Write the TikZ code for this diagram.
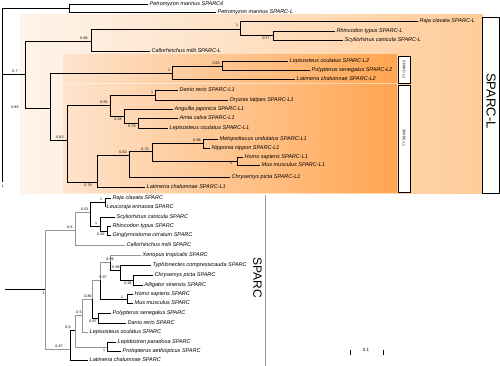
\documentclass[tikz,border=0pt]{standalone}
\usepackage{fontspec}
\setmainfont{Liberation Sans}

\definecolor{pescachiaro}{RGB}{254,244,235}
\definecolor{pesca}{RGB}{255,204,153}
\definecolor{aranciochiaro}{RGB}{254,228,205}
\definecolor{arancio}{RGB}{255,165,80}
\definecolor{grigio}{RGB}{150,150,150}

\tikzset{
  ramo/.style={line width=0.7pt},
  ramog/.style={line width=0.7pt, draw=grigio},
  foglia/.style={anchor=west, inner sep=1.5pt, font=\fontsize{5.5}{6}\selectfont\itshape},
  supporto/.style={inner sep=0pt, font=\fontsize{3.6}{4}\selectfont},
  riquadro/.style={draw=black, fill=white, line width=0.6pt},
}

\begin{document}
\begin{tikzpicture}[x=1pt, y=-1pt]
\useasboundingbox (0,0) rectangle (500,366);

% Riquadri colorati
\fill[left color=pescachiaro, right color=pesca] (20,15) rectangle (483,193);
\fill[left color=aranciochiaro, right color=arancio] (63,55) rectangle (397,83);
\fill[left color=aranciochiaro, right color=arancio] (63,85) rectangle (397,192);

% Etichette dei gruppi
\draw[riquadro] (398,56) rectangle (410,83);
\draw[riquadro] (398,85) rectangle (410,192);
\draw[riquadro] (482,17) rectangle (499.5,193);
\node[rotate=-90, inner sep=0pt, font=\fontsize{3.6}{4}\selectfont] (labL2) at (404,69.5) {SPARC-L2};
\node[rotate=-90, inner sep=0pt, font=\fontsize{3.6}{4}\selectfont] (labL1) at (404,138) {SPARC-L1};
\node[rotate=-90, inner sep=0pt, font=\fontsize{13}{13}\selectfont] (labL) at (491,101) {SPARC-L};
\node[rotate=-90, inner sep=0pt, font=\fontsize{12}{12}\selectfont] (labS) at (257.5,278) {SPARC};
\draw[grigio, line width=0.8pt] (265,195) -- (265,366);

% Scala
\coordinate (sc1) at (350,352);
\coordinate (sc2) at (383,352);
\draw[line width=0.5pt] ([yshift=-2.5pt]sc1) -- ([yshift=2.5pt]sc1);
\draw[line width=0.5pt] ([yshift=-2.5pt]sc2) -- ([yshift=2.5pt]sc2);
\node[supporto, font=\fontsize{4.5}{5}\selectfont] (scala) at (366,349.5) {0.1};

% Nodi interni SPARC-L
\coordinate (radL) at (2,74);
\coordinate (fondoL) at (2,182);
\coordinate (nLamp) at (69,8);
\coordinate (n25) at (25,74);
\coordinate (n91) at (91,41);
\coordinate (n240) at (240,29);
\coordinate (n273) at (273,35);
\coordinate (n50) at (50,108);
\coordinate (n172) at (172,73);
\coordinate (n222) at (222,66);
\coordinate (n67) at (67,140);
\coordinate (n110) at (110,105);
\coordinate (n155) at (155,95);
\coordinate (n124) at (124,116);
\coordinate (n138) at (138,123);
\coordinate (n97) at (97,182);
\coordinate (n129) at (129,155);
\coordinate (n152) at (152,151);
\coordinate (nUcc) at (203,143);
\coordinate (nMam) at (237,161);

% Foglie SPARC-L
\node[foglia] (pmA) at (148,4) {Petromyzon marinus SPARC4};
\node[foglia] (pmL) at (216,12) {Petromyzon marinus SPARC-L};
\node[foglia] (rajaL) at (418,21) {Raja clavata SPARC-L};
\node[foglia] (rhinL) at (335,31) {Rhincodon typus SPARC-L};
\node[foglia] (scylL) at (343,40) {Scyliorhinus canicula SPARC-L};
\node[foglia] (calloL) at (150,51) {Callorhinchus milii SPARC-L};
\node[foglia] (lepL2) at (288,61) {Lepisosteus oculatus SPARC-L2};
\node[foglia] (polyL2) at (310,70) {Polypterus senegalus SPARC-L2};
\node[foglia] (latL2) at (295,79) {Latimeria chalumnae SPARC-L2};
\node[foglia] (danL1) at (178,90) {Danio rerio SPARC-L1};
\node[foglia] (oryL1) at (228,100) {Oryzias latipes SPARC-L1};
\node[foglia] (angL1) at (173,109) {Anguilla japonica SPARC-L1};
\node[foglia] (amiaL1) at (178,118) {Amia calva SPARC-L1};
\node[foglia] (lepL1) at (168,128) {Lepisosteus oculatus SPARC-L1};
\node[foglia] (melL1) at (218,139) {Melopsittacus undulatus SPARC-L1};
\node[foglia] (nipL1) at (210,148) {Nipponia nippon SPARC-L1};
\node[foglia] (homL1) at (243,157) {Homo sapiens SPARC-L1};
\node[foglia] (musL1) at (260,165) {Mus musculus SPARC-L1};
\node[foglia] (chrL1) at (230,177) {Chrysemys picta SPARC-L1};
\node[foglia] (latL1) at (145,187) {Latimeria chalumnae SPARC-L1};

% Rami SPARC-L
\draw[ramo] (radL) |- (nLamp);
\draw[ramo] (radL) -- (fondoL);
\draw[ramo] (radL) -- (n25);
\draw[ramo] (nLamp) |- (pmA.west);
\draw[ramo] (nLamp) |- (pmL.west);
\draw[ramo] (n25) |- (n91);
\draw[ramo] (n25) |- (n50);
\draw[ramo] (n91) |- (n240);
\draw[ramo] (n91) |- (calloL.west);
\draw[ramo] (n240) |- (rajaL.west);
\draw[ramo] (n240) |- (n273);
\draw[ramo] (n273) |- (rhinL.west);
\draw[ramo] (n273) |- (scylL.west);
\draw[ramo] (n50) |- (n172);
\draw[ramo] (n50) |- (n67);
\draw[ramo] (n172) |- (n222);
\draw[ramo] (n172) |- (latL2.west);
\draw[ramo] (n222) |- (lepL2.west);
\draw[ramo] (n222) |- (polyL2.west);
\draw[ramo] (n67) |- (n110);
\draw[ramo] (n67) |- (n97);
\draw[ramo] (n110) |- (n155);
\draw[ramo] (n110) |- (n124);
\draw[ramo] (n155) |- (danL1.west);
\draw[ramo] (n155) |- (oryL1.west);
\draw[ramo] (n124) |- (angL1.west);
\draw[ramo] (n124) |- (n138);
\draw[ramo] (n138) |- (amiaL1.west);
\draw[ramo] (n138) |- (lepL1.west);
\draw[ramo] (n97) |- (n129);
\draw[ramo] (n97) |- (latL1.west);
\draw[ramo] (n129) |- (n152);
\draw[ramo] (n129) |- (chrL1.west);
\draw[ramo] (n152) |- (nUcc);
\draw[ramo] (n152) |- (nMam);
\draw[ramo] (nUcc) |- (melL1.west);
\draw[ramo] (nUcc) |- (nipL1.west);
\draw[ramo] (nMam) |- (homL1.west);
\draw[ramo] (nMam) |- (musL1.west);

% Supporti SPARC-L
\node[supporto] (sL1) at (3,186) {1};
\node[supporto] (sL2) at (15,71) {0.7};
\node[supporto] (sL3) at (84,38) {0.88};
\node[supporto] (sL4) at (237,25) {1};
\node[supporto] (sL5) at (266,38.5) {0.77};
\node[supporto] (sL6) at (15,107) {0.96};
\node[supporto] (sL7) at (169,70) {1};
\node[supporto] (sL8) at (216,63) {0.65};
\node[supporto] (sL9) at (60,137) {0.82};
\node[supporto] (sL10) at (104,102) {0.55};
\node[supporto] (sL11) at (152,92) {1};
\node[supporto] (sL12) at (118,119) {0.58};
\node[supporto] (sL13) at (132,126) {0.78};
\node[supporto] (sL14) at (88,185) {0.79};
\node[supporto] (sL15) at (123,152) {0.62};
\node[supporto] (sL16) at (145,149) {0.72};
\node[supporto] (sL17) at (197,140) {0.98};
\node[supporto] (sL18) at (231,163) {1};

% Nodi interni SPARC
\coordinate (radS) at (5,289);
\coordinate (nS) at (45,289);
\coordinate (nCh) at (75,230);
\coordinate (nEl) at (90,212);
\coordinate (nBat) at (105,202);
\coordinate (nSh) at (100,226);
\coordinate (nRG) at (107,231);
\coordinate (nOst) at (70,349);
\coordinate (n75) at (75,330);
\coordinate (n82) at (82,315);
\coordinate (n92) at (92,299);
\coordinate (nAct) at (98,318);
\coordinate (n100) at (100,280);
\coordinate (nMamS) at (127,299);
\coordinate (nTet) at (110,262);
\coordinate (n120) at (120,270);
\coordinate (nRet) at (133,280);
\coordinate (nLung) at (107,347);

% Foglie SPARC
\node[foglia] (rajaS) at (111,198) {Raja clavata SPARC};
\node[foglia] (leuS) at (105,207) {Leucoraja erinacea SPARC};
\node[foglia] (scylS) at (115,217) {Scyliorhinus canicula SPARC};
\node[foglia] (rhinS) at (111,226) {Rhincodon typus SPARC};
\node[foglia] (gingS) at (111,235) {Ginglymostoma cirratum SPARC};
\node[foglia] (calloS) at (125,245) {Callorhinchus milii SPARC};
\node[foglia] (xenS) at (141,255) {Xenopus tropicalis SPARC};
\node[foglia] (typS) at (151,265) {Typhlonectes compressicauda SPARC};
\node[foglia] (chrS) at (153,275) {Chrysemys picta SPARC};
\node[foglia] (allS) at (143,285) {Alligator sinensis SPARC};
\node[foglia] (homS) at (133,294) {Homo sapiens SPARC};
\node[foglia] (musS) at (133,303) {Mus musculus SPARC};
\node[foglia] (polyS) at (111,313) {Polypterus senegalus SPARC};
\node[foglia] (danS) at (126,323) {Danio rerio SPARC};
\node[foglia] (lepS) at (88,332) {Lepisosteus oculatus SPARC};
\node[foglia] (lepdS) at (116,342) {Lepidosiren paradoxa SPARC};
\node[foglia] (proS) at (121,351) {Protopterus aethiopicus SPARC};
\node[foglia] (latS) at (88,360) {Latimeria chalumnae SPARC};

% Rami SPARC
\draw[ramo] (radS) -- (nS);
\draw[ramog] (nS) |- (nCh);
\draw[ramog] (nS) |- (nOst);
\draw[ramog] (nCh) |- (nEl);
\draw[ramog] (nCh) |- (calloS.west);
\draw[ramo] (nEl) |- (nBat);
\draw[ramo] (nEl) |- (nSh);
\draw[ramo] (nBat) |- (rajaS.west);
\draw[ramo] (nBat) |- (leuS.west);
\draw[ramo] (nSh) |- (scylS.west);
\draw[ramo] (nSh) |- (nRG);
\draw[ramo] (nRG) |- (rhinS.west);
\draw[ramo] (nRG) |- (gingS.west);
\draw[ramo] (nOst) |- (n75);
\draw[ramo] (nOst) |- (latS.west);
\draw[ramog] (n75) |- (n82);
\draw[ramog] (n75) |- (nLung);
\draw[ramo] (nLung) |- (lepdS.west);
\draw[ramo] (nLung) |- (proS.west);
\draw[ramog] (n82) |- (n92);
\draw[ramog] (n82) |- (lepS.west);
\draw[ramog] (n92) |- (n100);
\draw[ramo] (n92) |- (nAct);
\draw[ramo] (nAct) |- (polyS.west);
\draw[ramo] (nAct) |- (danS.west);
\draw[ramog] (n100) |- (nTet);
\draw[ramo] (n100) |- (nMamS);
\draw[ramo] (nMamS) |- (homS.west);
\draw[ramo] (nMamS) |- (musS.west);
\draw[ramog] (nTet) |- (xenS.west);
\draw[ramo] (nTet) |- (n120);
\draw[ramo] (n120) |- (typS.west);
\draw[ramo] (n120) |- (nRet);
\draw[ramo] (nRet) |- (chrS.west);
\draw[ramo] (nRet) |- (allS.west);

% Supporti SPARC
\node[supporto] (sS1) at (44,293) {1};
\node[supporto] (sS2) at (70,227) {0.6};
\node[supporto] (sS3) at (85,209) {0.61};
\node[supporto] (sS4) at (101,199) {1};
\node[supporto] (sS5) at (96,223) {1};
\node[supporto] (sS6) at (101,234) {0.92};
\node[supporto] (sS7) at (59,346) {0.87};
\node[supporto] (sS8) at (68,327) {0.8};
\node[supporto] (sS9) at (79,312) {0.5};
\node[supporto] (sS10) at (88,296) {0.86};
\node[supporto] (sS11) at (93,321) {0.87};
\node[supporto] (sS12) at (103,277) {0.97};
\node[supporto] (sS13) at (110,259) {0.99};
\node[supporto] (sS14) at (116,267) {0.98};
\node[supporto] (sS15) at (128,283) {0.96};
\node[supporto] (sS16) at (122,297) {1};
\node[supporto] (sS17) at (104,350) {1};

\end{tikzpicture}
\end{document}
